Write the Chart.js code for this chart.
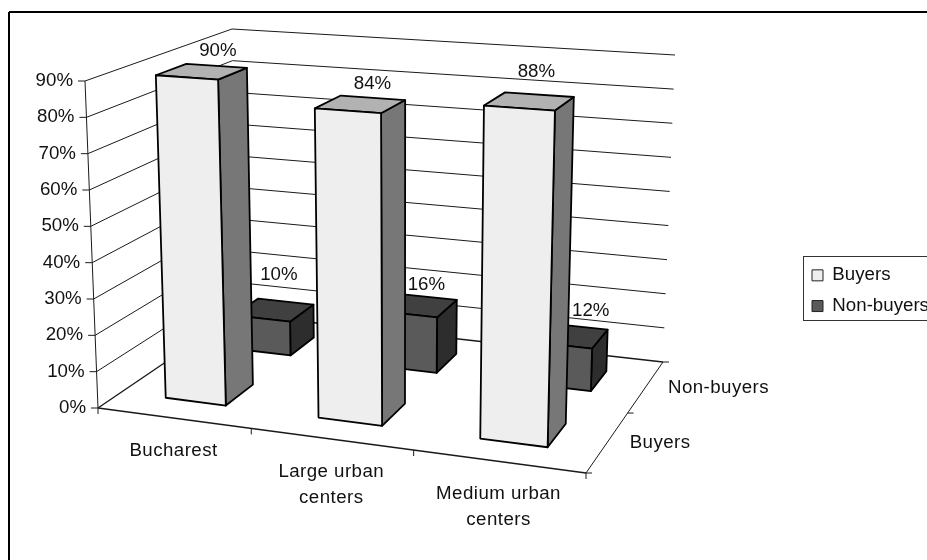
<!DOCTYPE html>
<html lang="en">
  <head>
    <meta charset="UTF-8" />
    <title>Buyers and non-buyers by area</title>
    <script src="https://cdn.jsdelivr.net/npm/chart.js"></script>
    <style>
      body {
        margin: 0;
        background: #fff;
      }
      #chart {
        display: block;
      }
    </style>
  </head>
  <body>
    <canvas id="chart" width="927" height="560"></canvas>

    <script>
      const categories = ["Bucharest", ["Large urban", "centers"], ["Medium urban", "centers"]];
      const seriesNames = ["Buyers", "Non-buyers"];
      const buyers = [90, 84, 88];
      const nonBuyers = [10, 16, 12];
      const tickLabels = ["0%", "10%", "20%", "30%", "40%", "50%", "60%", "70%", "80%", "90%"];

      const FONT = '18.7px "Liberation Sans", Arial, sans-serif';
      const INK = "#111";
      const BAR_RATIO = 0.4; // same share of the slot along both floor directions

      // corners of the 3D box on the page: front-left, front-right, back-right, back-left
      const floorQuad = [[98, 408], [586, 473], [663, 362], [236.5, 314]];
      const roofQuad = [[85, 81], [596, 117.5], [675, 55], [232, 29]];

      // face colours per series: front, top, side
      const faces = [
        { front: "#eeeeee", top: "#b2b2b2", side: "#777777" },
        { front: "#5a5a5a", top: "#404040", side: "#2d2d2d" },
      ];

      // per label shift away from the centre of the bar top
      const labelNudge = [
        [[16, -21], [12, -20], [7, -29]],
        [[5, -35], [9, -21], [22, -25]],
      ];

      // unit square -> quad perspective map
      function quadMap(q) {
        const [[x0, y0], [x1, y1], [x2, y2], [x3, y3]] = q;
        const dx1 = x1 - x2, dx2 = x3 - x2, sx = x0 - x1 + x2 - x3;
        const dy1 = y1 - y2, dy2 = y3 - y2, sy = y0 - y1 + y2 - y3;
        const den = dx1 * dy2 - dx2 * dy1;
        const g = (sx * dy2 - dx2 * sy) / den;
        const h = (dx1 * sy - sx * dy1) / den;
        const a = x1 - x0 + g * x1, b = x3 - x0 + h * x3;
        const d = y1 - y0 + g * y1, e = y3 - y0 + h * y3;
        return (u, v) => {
          const w = g * u + h * v + 1;
          return [(a * u + b * v + x0) / w, (d * u + e * v + y0) / w];
        };
      }
      const floorAt = quadMap(floorQuad);
      const roofAt = quadMap(roofQuad);

      // u along the categories, v into the depth, w up the value axis, all 0..1
      function project(u, v, w) {
        const f = floorAt(u, v);
        const r = roofAt(u, v);
        return [f[0] + (r[0] - f[0]) * w, f[1] + (r[1] - f[1]) * w];
      }

      function segment(ctx, a, b) {
        ctx.beginPath();
        ctx.moveTo(a[0], a[1]);
        ctx.lineTo(b[0], b[1]);
        ctx.stroke();
      }

      function polygon(ctx, pts, fill) {
        ctx.beginPath();
        pts.forEach((p, i) => (i ? ctx.lineTo(p[0], p[1]) : ctx.moveTo(p[0], p[1])));
        ctx.closePath();
        ctx.fillStyle = fill;
        ctx.fill();
        ctx.stroke();
      }

      function heightShare(yScale, pixel) {
        return (yScale.bottom - pixel) / yScale.height;
      }

      function drawWalls(chart, ctx) {
        const yScale = chart.scales.y;
        ctx.strokeStyle = "#1a1a1a";
        ctx.lineWidth = 1;

        yScale.ticks.forEach((t) => {
          const w = heightShare(yScale, yScale.getPixelForValue(t.value));
          if (w > 0) {
            segment(ctx, project(0, 0, w), project(0, 1, w));
            segment(ctx, project(0, 1, w), project(1, 1, w));
          }
          const at = project(0, 0, w);
          segment(ctx, [at[0] - 7, at[1]], at);
          ctx.fillStyle = INK;
          ctx.font = FONT;
          ctx.textAlign = "right";
          ctx.textBaseline = "middle";
          ctx.fillText(t.label, at[0] - 12, at[1]);
        });

        segment(ctx, project(0, 0, 0), project(0, 0, 1));
        ctx.lineWidth = 1.4;
        segment(ctx, project(0, 0, 0), project(0, 1, 0));
        segment(ctx, project(0, 1, 0), project(1, 1, 0));
        segment(ctx, project(0, 0, 0), project(1, 0, 0));
        ctx.lineWidth = 1;
        segment(ctx, project(1, 0, 0), project(1, 1, 0));
      }

      function drawFloorLabels(chart, ctx) {
        const n = categories.length;
        ctx.fillStyle = INK;
        ctx.font = FONT;
        ctx.strokeStyle = "#1a1a1a";
        ctx.lineWidth = 1;
        ctx.letterSpacing = "0.45px";

        for (let i = 0; i <= n; i++) {
          const p = project(i / n, 0, 0);
          segment(ctx, p, [p[0], p[1] + 6]);
        }
        categories.forEach((label, i) => {
          const p = project((i + 0.5) / n, 0, 0);
          ctx.textAlign = "center";
          ctx.textBaseline = "middle";
          [].concat(label).forEach((line, k) => {
            ctx.fillText(line, p[0], p[1] + 33 + k * 26);
          });
        });

        seriesNames.forEach((name, s) => {
          const v = s / seriesNames.length;
          const p = project(1, v, 0);
          segment(ctx, p, [p[0] + 6, p[1]]);
          const mid = project(1, (s + 0.5) / seriesNames.length, 0);
          ctx.textAlign = "left";
          ctx.textBaseline = "middle";
          ctx.fillText(name, mid[0] + 22, mid[1] + 1);
        });
        const end = project(1, 1, 0);
        segment(ctx, end, [end[0] + 6, end[1]]);
        ctx.letterSpacing = "0px";
      }

      // one box, placed from the bar element the library laid out
      function drawBox(chart, ctx, s, bar) {
        const { left, width } = chart.chartArea;
        const props = bar.getProps(["x", "y", "width"], true);
        const u0 = (props.x - props.width / 2 - left) / width;
        const u1 = (props.x + props.width / 2 - left) / width;
        const nS = seriesNames.length;
        const v0 = (s + (1 - BAR_RATIO) / 2) / nS;
        const v1 = (s + (1 + BAR_RATIO) / 2) / nS;
        const h = heightShare(chart.scales.y, props.y);
        const col = faces[s];

        ctx.strokeStyle = "#000";
        ctx.lineWidth = 1.8;
        ctx.lineJoin = "round";
        polygon(ctx, [project(u1, v0, 0), project(u1, v1, 0), project(u1, v1, h), project(u1, v0, h)], col.side);
        polygon(ctx, [project(u0, v0, h), project(u1, v0, h), project(u1, v1, h), project(u0, v1, h)], col.top);
        polygon(ctx, [project(u0, v0, 0), project(u1, v0, 0), project(u1, v0, h), project(u0, v0, h)], col.front);
        return project((u0 + u1) / 2, (v0 + v1) / 2, h);
      }

      const box3d = {
        id: "box3d",
        afterLayout(chart) {
          // legend sits at a fixed spot, partly running off the right edge
          const lg = chart.legend;
          const w = lg.width;
          lg.left = 800;
          lg.right = 800 + w;
          lg.top = 254;
          lg.bottom = 420;
        },
        beforeDraw(chart) {
          const ctx = chart.ctx;
          ctx.save();
          ctx.strokeStyle = "#000";
          ctx.lineWidth = 2;
          segment(ctx, [9, 560], [9, 12]);
          segment(ctx, [9, 12], [927, 12]);
          ctx.strokeStyle = "#333";
          ctx.lineWidth = 1;
          ctx.strokeRect(803.5, 256.5, 130, 64);
          ctx.restore();
        },
        beforeDatasetsDraw(chart) {
          const ctx = chart.ctx;
          ctx.save();
          drawWalls(chart, ctx);
          drawFloorLabels(chart, ctx);

          // far row first so the near bars cover it
          const tops = [];
          for (let s = seriesNames.length - 1; s >= 0; s--) {
            chart.getDatasetMeta(s).data.forEach((bar, i) => {
              tops.push({ s, i, at: drawBox(chart, ctx, s, bar) });
            });
          }

          ctx.fillStyle = INK;
          ctx.font = FONT;
          ctx.textAlign = "center";
          ctx.textBaseline = "middle";
          tops.forEach(({ s, i, at }) => {
            const nudge = labelNudge[s][i];
            ctx.fillText(chart.data.datasets[s].data[i] + "%", at[0] + nudge[0], at[1] + nudge[1]);
          });
          ctx.restore();
          return false; // boxes replace the flat bars
        },
      };

      new Chart(document.getElementById("chart"), {
        type: "bar",
        data: {
          labels: categories,
          datasets: [
            { label: seriesNames[0], data: buyers, backgroundColor: faces[0].front, borderColor: "#222", borderWidth: 1 },
            { label: seriesNames[1], data: nonBuyers, backgroundColor: faces[1].front, borderColor: "#222", borderWidth: 1 },
          ],
        },
        options: {
          responsive: false,
          animation: false,
          layout: { padding: 0 },
          grouped: false,
          categoryPercentage: 1,
          barPercentage: BAR_RATIO,
          scales: {
            x: { display: false, offset: true },
            y: {
              display: false,
              min: 0,
              max: 90,
              ticks: { stepSize: 10, autoSkip: false, callback: (v, i) => tickLabels[i] },
            },
          },
          plugins: {
            tooltip: { enabled: false },
            legend: {
              position: "right",
              align: "start",
              labels: {
                boxWidth: 11,
                boxHeight: 11,
                padding: 12,
                color: INK,
                font: { family: '"Liberation Sans", Arial, sans-serif', size: 18.7 },
              },
            },
          },
        },
        plugins: [box3d],
      });
    </script>
  </body>
</html>
